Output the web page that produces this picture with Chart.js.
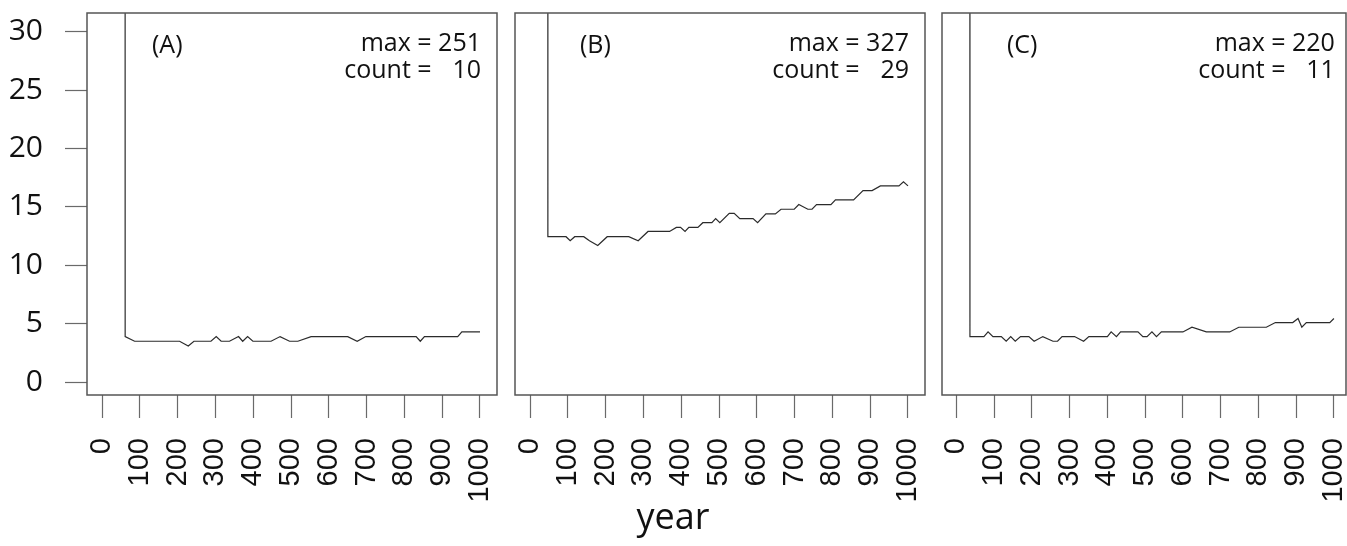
<!DOCTYPE html>
<html>
<head>
<meta charset="utf-8">
<script src="https://cdn.jsdelivr.net/npm/chart.js@4"></script>
<style>
  html, body { margin: 0; padding: 0; background: #fff; }
  #wrap { position: relative; width: 1347px; height: 546px; overflow: hidden; }
  #wrap canvas { position: absolute; left: 0; top: 0; }
  #xTitle {
    position: absolute; left: 673px; top: 498px; transform: translateX(-50%);
    font: 36px 'Open Sans', sans-serif; line-height: 36px; color: #111;
  }
</style>
</head>
<body>
<div id="wrap">
  <canvas id="graficoA" width="1360" height="546"></canvas>
  <canvas id="graficoB" width="1360" height="546"></canvas>
  <canvas id="graficoC" width="1360" height="546"></canvas>
  <div id="xTitle">year</div>
</div>
<script>
// dados
const panelLabels = ['(A)', '(B)', '(C)']
const panelCounts = [10, 29, 11]
const xTicks = [0, 100, 200, 300, 400, 500, 600, 700, 800, 900, 1000]
const yTicks = [0, 5, 10, 15, 20, 25, 30]

const yearsA = [60, 61, 86, 205, 228, 243, 288, 302, 315, 337, 361, 372, 385, 399, 447, 471, 496, 518, 553, 650, 675, 698, 831, 842, 853, 941, 952, 1000]
const valuesA = [251, 3.9, 3.5, 3.5, 3.1, 3.5, 3.5, 3.9, 3.5, 3.5, 3.9, 3.5, 3.9, 3.5, 3.5, 3.9, 3.5, 3.5, 3.9, 3.9, 3.5, 3.9, 3.9, 3.5, 3.9, 3.9, 4.3, 4.3]

const yearsB = [46, 47, 95, 106, 118, 142, 157, 179, 204, 261, 286, 312, 369, 387, 398, 410, 420, 444, 457, 481, 491, 502, 527, 540, 555, 590, 602, 624, 649, 664, 699, 711, 735, 746, 758, 796, 808, 856, 881, 905, 927, 976, 988, 1000]
const valuesB = [327, 12.45, 12.45, 12.1, 12.45, 12.45, 12.1, 11.7, 12.45, 12.45, 12.1, 12.9, 12.9, 13.25, 13.25, 12.9, 13.25, 13.25, 13.65, 13.65, 14.0, 13.65, 14.45, 14.45, 14.0, 14.0, 13.65, 14.4, 14.4, 14.8, 14.8, 15.2, 14.8, 14.8, 15.2, 15.2, 15.6, 15.6, 16.4, 16.4, 16.8, 16.8, 17.15, 16.8]

const yearsC = [35, 36, 73, 84, 97, 119, 132, 144, 156, 170, 192, 206, 229, 256, 268, 280, 313, 337, 351, 400, 410, 424, 435, 481, 494, 505, 518, 530, 543, 600, 624, 662, 724, 748, 821, 845, 891, 905, 915, 927, 989, 1000]
const valuesC = [220, 3.9, 3.9, 4.3, 3.9, 3.9, 3.5, 3.9, 3.5, 3.9, 3.9, 3.5, 3.9, 3.5, 3.5, 3.9, 3.9, 3.5, 3.9, 3.9, 4.3, 3.9, 4.3, 4.3, 3.9, 3.9, 4.3, 3.9, 4.3, 4.3, 4.7, 4.3, 4.3, 4.7, 4.7, 5.1, 5.1, 5.45, 4.7, 5.1, 5.1, 5.45]

const panelYears = [yearsA, yearsB, yearsC]
const panelValues = [valuesA, valuesB, valuesC]

// caixa em volta da area do grafico + textos (A) / max / count
const chartAreaBox = {
    id: 'chartAreaBox',
    afterDraw(chart, args, opts) {
        const {ctx, chartArea: {left, top, right, bottom}} = chart
        ctx.save()
        ctx.strokeStyle = '#555'
        ctx.lineWidth = 1.5
        ctx.strokeRect(left, top, right - left, bottom - top)

        ctx.fillStyle = '#111'
        ctx.font = "25px 'Open Sans', sans-serif"
        ctx.textBaseline = 'alphabetic'
        ctx.textAlign = 'left'
        ctx.fillText(opts.label, left + 65, top + 40)
        ctx.textAlign = 'right'
        const xr = chart.scales.x.getPixelForValue(1000) + 1
        ctx.fillText('max = ' + opts.max, xr, top + 38)
        ctx.fillText('count = ' + String(opts.count).padStart(3, '\u2007'), xr, top + 65)
        ctx.restore()
    }
}

// tira o padding automatico que o chart.js pede para os rotulos
function semPadding(s) {
    s.paddingLeft = 0
    s.paddingRight = 0
    s.paddingTop = 0
    s.paddingBottom = 0
}

function criarPainel(i, canvasId, padding, xMin, xMax, showY) {
    const anos = panelYears[i]
    const valores = panelValues[i]

    return new Chart(document.getElementById(canvasId), {
        type: 'line',
        data: {
            datasets: [{
                data: anos.map((a, k) => ({x: a, y: valores[k]})),
                borderColor: '#2b2b2b',
                borderWidth: 1.2,
                pointRadius: 0,
                tension: 0,
                fill: false
            }]
        },
        options: {
            responsive: false,
            animation: false,
            events: [],
            layout: {padding: padding},
            plugins: {
                legend: {display: false},
                tooltip: {enabled: false},
                chartAreaBox: {
                    label: panelLabels[i],
                    max: Math.max(...valores),
                    count: panelCounts[i]
                }
            },
            scales: {
                x: {
                    type: 'linear',
                    min: xMin,
                    max: xMax,
                    afterBuildTicks: s => { s.ticks = xTicks.map(v => ({value: v})) },
                    afterFit: s => { s.height = 151; semPadding(s) },
                    border: {display: false},
                    grid: {
                        drawOnChartArea: false,
                        drawTicks: true,
                        tickLength: 23,
                        tickColor: '#6a6a6a',
                        tickWidth: 1.2
                    },
                    ticks: {
                        autoSkip: false,
                        minRotation: 90,
                        maxRotation: 90,
                        padding: 20,
                        color: '#111',
                        callback: v => String(v),
                        font: {family: "'Liberation Sans', Arial, sans-serif", size: 29}
                    }
                },
                y: {
                    display: showY,
                    min: -1.1,
                    max: 31.6,
                    afterBuildTicks: s => { s.ticks = yTicks.map(v => ({value: v})) },
                    afterFit: s => {
                        s.width = showY ? 87 : 0
                        semPadding(s)
                    },
                    border: {display: false},
                    grid: {
                        drawOnChartArea: false,
                        drawTicks: true,
                        tickLength: 22,
                        tickColor: '#6a6a6a',
                        tickWidth: 1.2
                    },
                    ticks: {
                        padding: 22,
                        color: '#111',
                        font: {family: "'Open Sans', sans-serif", size: 30}
                    }
                }
            }
        },
        plugins: [chartAreaBox]
    })
}

window.graficoA = criarPainel(0, 'graficoA', {top: 13, left: 0, right: 863, bottom: 0}, -40, 1045, true)
window.graficoB = criarPainel(1, 'graficoB', {top: 13, left: 515, right: 435, bottom: 0}, -40, 1045, false)
window.graficoC = criarPainel(2, 'graficoC', {top: 13, left: 942, right: 14, bottom: 0}, -38, 1032, false)
</script>
</body>
</html>
